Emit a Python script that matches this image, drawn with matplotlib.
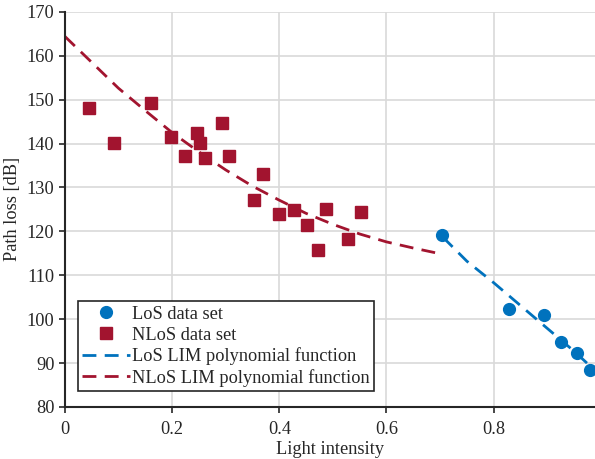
import matplotlib
matplotlib.use("Agg")
import matplotlib.pyplot as plt
import numpy as np

# Data
los_x = [0.703, 0.828, 0.893, 0.926, 0.956, 0.980]
los_y = [119.2, 102.3, 101.0, 94.8, 92.3, 88.5]

nlos_x = [0.045, 0.091, 0.160, 0.198, 0.224, 0.246, 0.252, 0.261, 0.293, 0.306,
          0.352, 0.369, 0.399, 0.427, 0.451, 0.472, 0.488, 0.529, 0.552]
nlos_y = [148.2, 140.1, 149.3, 141.5, 137.2, 142.3, 140.1, 136.6, 144.6, 137.2,
          127.1, 133.0, 123.9, 124.9, 121.4, 115.7, 125.0, 118.2, 124.3]

los_fit_x = [0.705, 0.75, 0.80, 0.85, 0.90, 0.95, 0.99]
los_fit_y = [118.7, 113.2, 108.3, 103.1, 97.9, 92.7, 88.2]

nlos_fit_x = [0.0, 0.05, 0.10, 0.15, 0.20, 0.25, 0.30, 0.35, 0.40, 0.45,
              0.50, 0.55, 0.60, 0.65, 0.70]
nlos_fit_y = [164.4, 158.5, 152.6, 147.5, 142.5, 138.1, 134.0, 130.3, 127.1, 124.1,
              121.6, 119.4, 117.6, 116.2, 114.9]

xticks = [0, 0.2, 0.4, 0.6, 0.8]
yticks = list(range(80, 171, 10))

blue = "#0072BD"
red = "#A2142F"

plt.rcParams['font.family'] = ['Liberation Serif', 'DejaVu Serif']
fs = 13.2

fig = plt.figure(figsize=(5.95, 4.59), dpi=100)
ax = fig.add_axes([0.109, 0.1133, 0.891, 0.861])

ax.plot(los_x, los_y, 'o', color=blue, markersize=8.5, label='LoS data set', zorder=3, clip_on=False)
ax.plot(nlos_x, nlos_y, 's', color=red, markersize=8.5, label='NLoS data set', zorder=3)
dash = (5, 3)
ax.plot(los_fit_x, los_fit_y, '--', color=blue, linewidth=2, dashes=dash,
        label='LoS LIM polynomial function', zorder=2)
ax.plot(nlos_fit_x, nlos_fit_y, '--', color=red, linewidth=2, dashes=dash,
        label='NLoS LIM polynomial function', zorder=2)

ax.set_xlim(0, 0.989)
ax.set_ylim(80, 170)
ax.set_xticks(xticks)
ax.set_xticklabels(['0', '0.2', '0.4', '0.6', '0.8'])
ax.set_yticks(yticks)
ax.grid(True, color='#d9d9d9', linewidth=1.2)
ax.set_axisbelow(True)
for s in ['top', 'right']:
    ax.spines[s].set_visible(False)
for s in ['left', 'bottom']:
    ax.spines[s].set_linewidth(1.5)
    ax.spines[s].set_color('#262626')
ax.tick_params(axis='both', direction='out', length=4, width=1.2, colors='#262626',
               labelsize=fs, labelcolor='#262626')
ax.tick_params(axis='x', pad=6)
ax.set_xlabel('Light intensity', fontsize=fs, color='#262626', labelpad=2)
ax.set_ylabel('Path loss [dB]', fontsize=fs, color='#262626', labelpad=4)

leg = ax.legend(loc='lower left', bbox_to_anchor=(0.024, 0.04), fontsize=fs,
                frameon=True, fancybox=False, edgecolor='#262626', framealpha=1,
                handlelength=2.6, labelspacing=0.2, borderpad=0.25, handletextpad=0.1,
                borderaxespad=0.0)
leg.get_frame().set_linewidth(1.2)
for t in leg.get_texts():
    t.set_color('#262626')

fig.savefig('out.png', dpi=100)
